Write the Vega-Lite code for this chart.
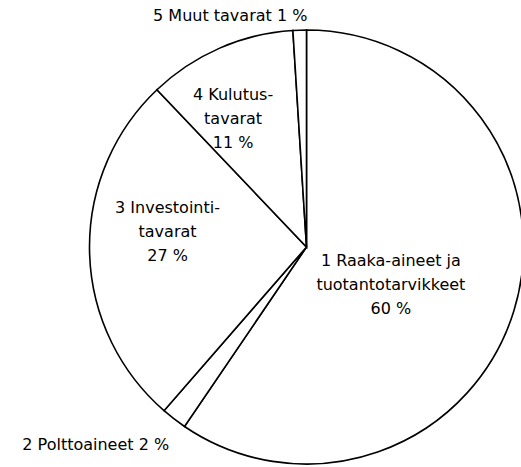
{
  "$schema": "https://vega.github.io/schema/vega-lite/v6.json",
  "width": 613,
  "height": 494,
  "autosize": "none",
  "padding": 0,
  "background": "white",
  "view": {"stroke": null},
  "config": {"text": {"font": "DejaVu Sans", "fontSize": 16, "lineBreak": "\n", "lineHeight": 24, "fill": "black"}},
  "data": {
    "values": [
      {"id": 1, "category": "1 Raaka-aineet ja tuotantotarvikkeet", "share": 59.5, "label": "1 Raaka-aineet ja\ntuotantotarvikkeet\n60 %"},
      {"id": 2, "category": "2 Polttoaineet", "share": 1.9, "label": "2 Polttoaineet 2 %"},
      {"id": 3, "category": "3 Investointitavarat", "share": 26.5, "label": "3 Investointi-\ntavarat\n27 %"},
      {"id": 4, "category": "4 Kulutustavarat", "share": 11.1, "label": "4 Kulutus-\ntavarat\n11 %"},
      {"id": 5, "category": "5 Muut tavarat", "share": 1.0, "label": "5 Muut tavarat 1 %"}
    ]
  },
  "encoding": {
    "theta": {"field": "share", "type": "quantitative", "stack": true},
    "order": {"field": "id", "type": "quantitative"}
  },
  "layer": [
    {
      "mark": {"type": "arc", "outerRadius": 217, "fill": "white", "stroke": "black", "strokeWidth": 1.6}
    },
    {
      "mark": {"type": "text", "radius": 82, "dx": 6, "dy": -10, "align": "center", "baseline": "middle"},
      "encoding": {"text": {"condition": {"test": "datum.id == 1", "field": "label"}, "value": ""}}
    },
    {
      "mark": {"type": "text", "radius": 247, "dx": -60, "dy": 2, "align": "center", "baseline": "middle"},
      "encoding": {"text": {"condition": {"test": "datum.id == 2", "field": "label"}, "value": ""}}
    },
    {
      "mark": {"type": "text", "radius": 117, "dx": -22, "dy": -42, "align": "center", "baseline": "middle"},
      "encoding": {"text": {"condition": {"test": "datum.id == 3", "field": "label"}, "value": ""}}
    },
    {
      "mark": {"type": "text", "radius": 141, "dx": -17, "dy": -23, "align": "center", "baseline": "middle"},
      "encoding": {"text": {"condition": {"test": "datum.id == 4", "field": "label"}, "value": ""}}
    },
    {
      "mark": {"type": "text", "radius": 232, "dx": -69, "dy": 1, "align": "center", "baseline": "middle"},
      "encoding": {"text": {"condition": {"test": "datum.id == 5", "field": "label"}, "value": ""}}
    }
  ]
}
